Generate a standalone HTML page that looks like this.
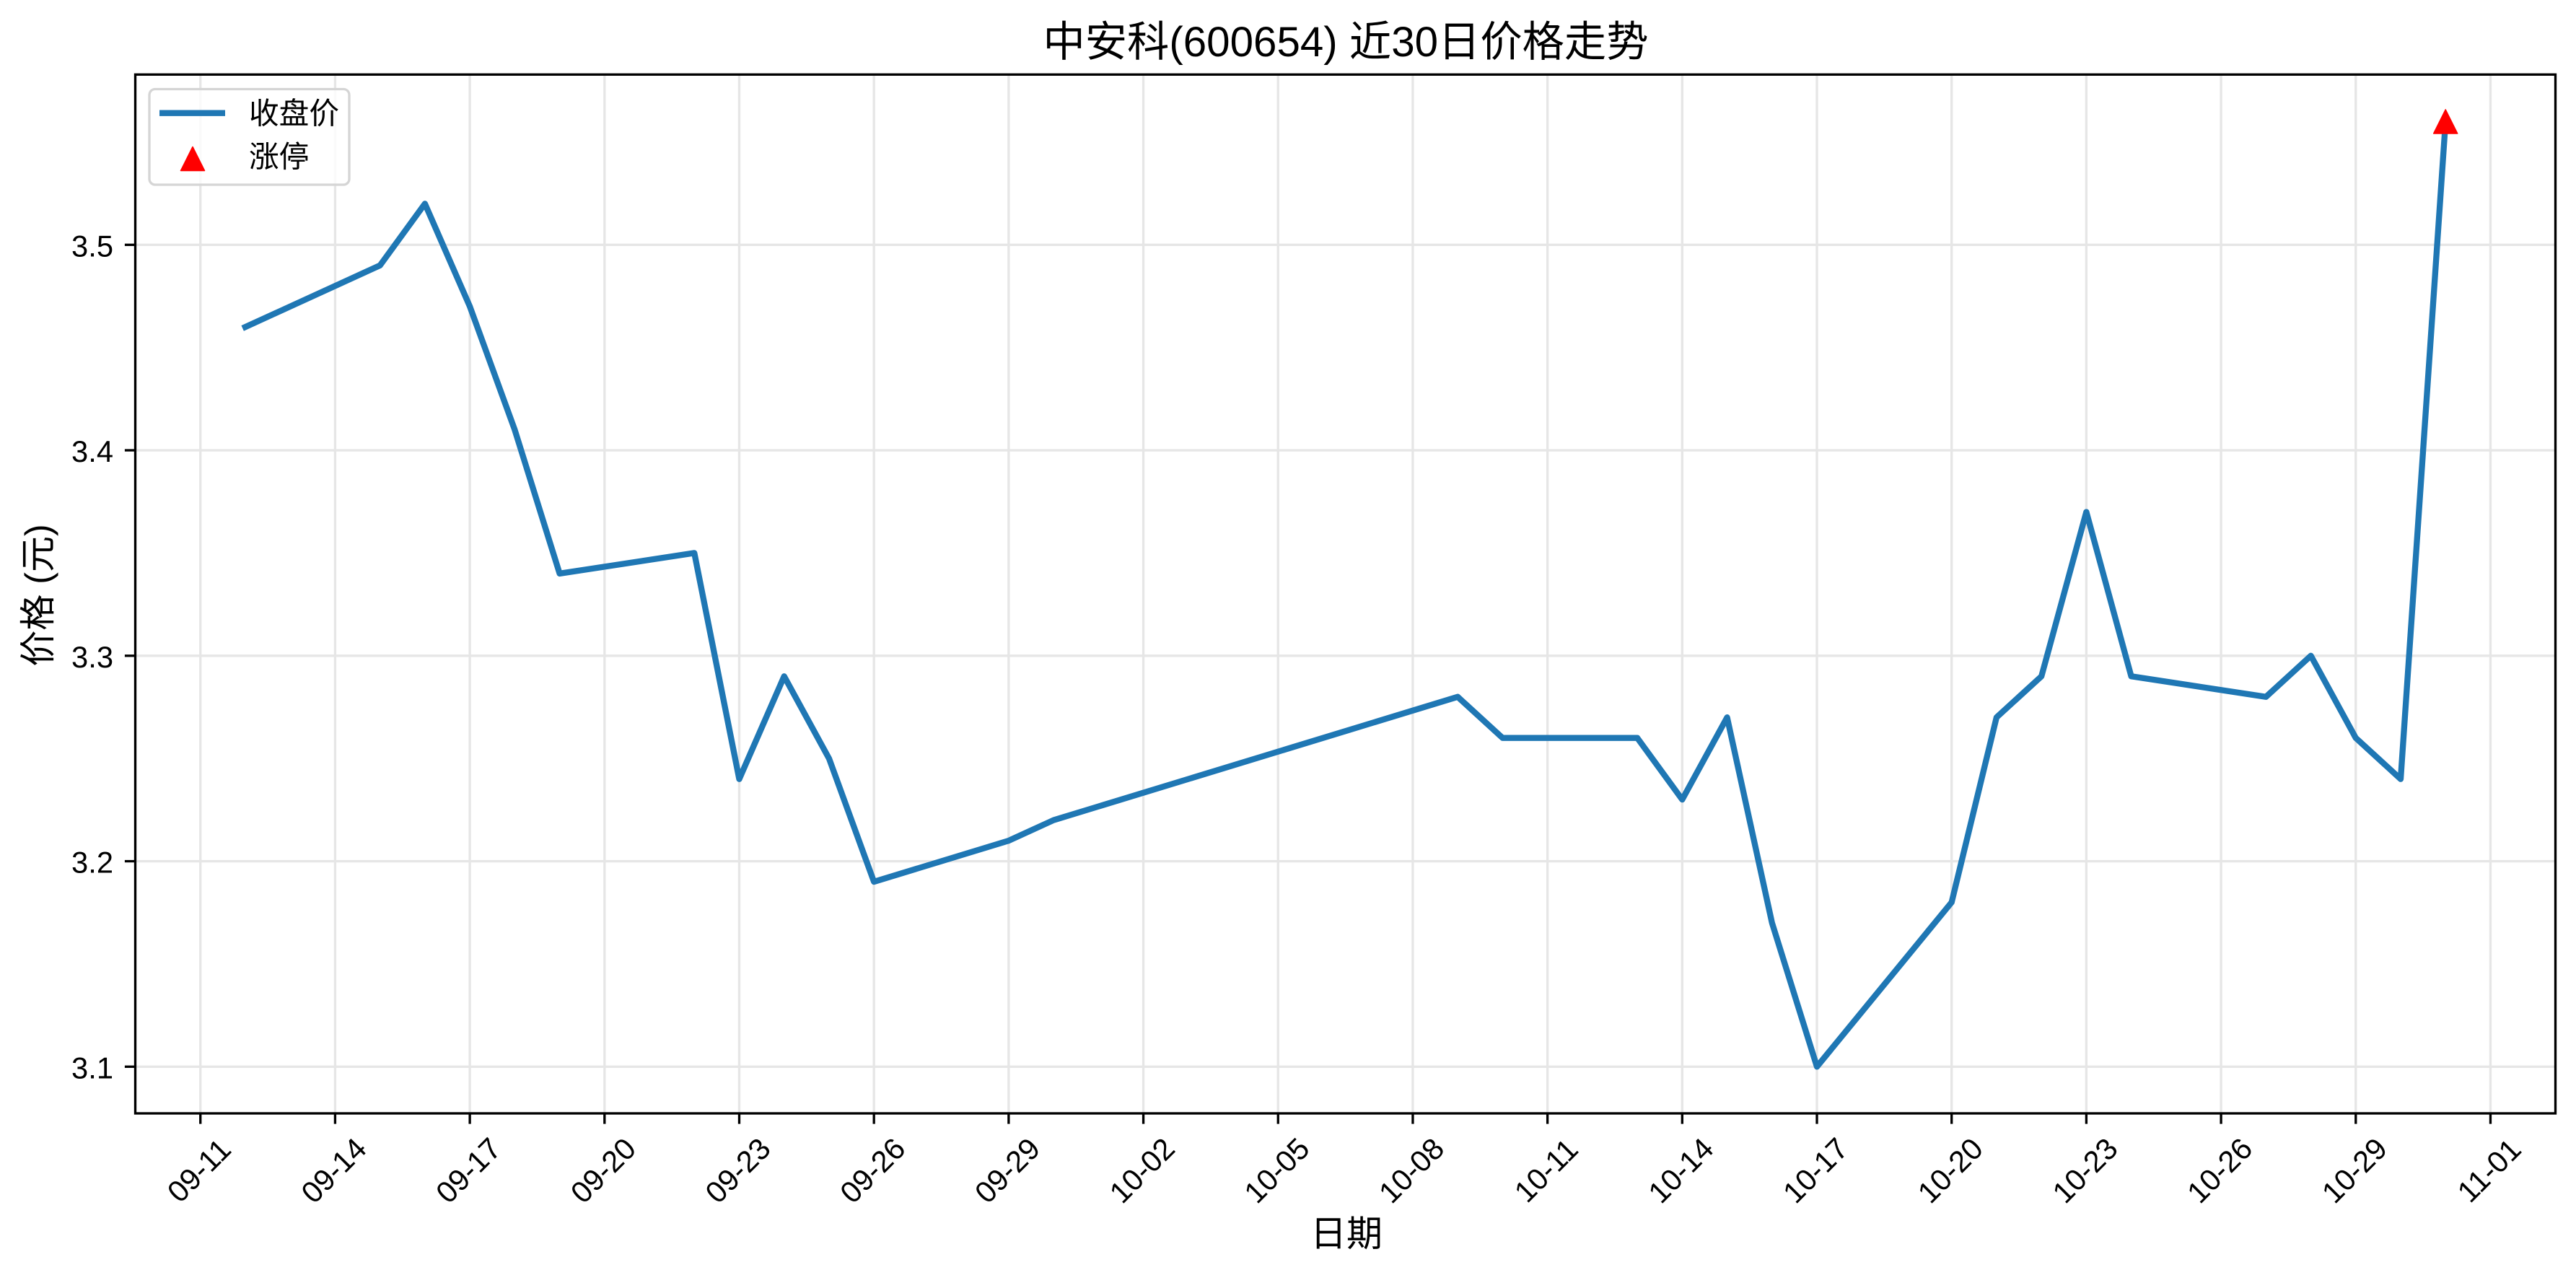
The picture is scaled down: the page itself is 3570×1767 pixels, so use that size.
<!DOCTYPE html>
<html>
<head>
<meta charset="utf-8">
<style>
  html, body { margin: 0; padding: 0; background: #ffffff; }
  svg { display: block; }
  text { font-family: "Liberation Sans", "Noto Sans CJK SC", sans-serif; fill: #000; }
</style>
</head>
<body>
<svg width="3570" height="1767" viewBox="0 0 3570 1767" xmlns="http://www.w3.org/2000/svg">
  <rect x="0" y="0" width="3570" height="1767" fill="#ffffff"/>

  <!-- grid -->
  <g stroke="#e6e6e6" stroke-width="3.33" fill="none">
    <line x1="277.73" y1="103.3" x2="277.73" y2="1543"/>
    <line x1="464.42" y1="103.3" x2="464.42" y2="1543"/>
    <line x1="651.11" y1="103.3" x2="651.11" y2="1543"/>
    <line x1="837.80" y1="103.3" x2="837.80" y2="1543"/>
    <line x1="1024.49" y1="103.3" x2="1024.49" y2="1543"/>
    <line x1="1211.18" y1="103.3" x2="1211.18" y2="1543"/>
    <line x1="1397.87" y1="103.3" x2="1397.87" y2="1543"/>
    <line x1="1584.56" y1="103.3" x2="1584.56" y2="1543"/>
    <line x1="1771.25" y1="103.3" x2="1771.25" y2="1543"/>
    <line x1="1957.94" y1="103.3" x2="1957.94" y2="1543"/>
    <line x1="2144.63" y1="103.3" x2="2144.63" y2="1543"/>
    <line x1="2331.32" y1="103.3" x2="2331.32" y2="1543"/>
    <line x1="2518.01" y1="103.3" x2="2518.01" y2="1543"/>
    <line x1="2704.70" y1="103.3" x2="2704.70" y2="1543"/>
    <line x1="2891.39" y1="103.3" x2="2891.39" y2="1543"/>
    <line x1="3078.08" y1="103.3" x2="3078.08" y2="1543"/>
    <line x1="3264.77" y1="103.3" x2="3264.77" y2="1543"/>
    <line x1="3451.46" y1="103.3" x2="3451.46" y2="1543"/>
    <line x1="187.5" y1="1478.3" x2="3541.5" y2="1478.3"/>
    <line x1="187.5" y1="1193.55" x2="3541.5" y2="1193.55"/>
    <line x1="187.5" y1="908.8" x2="3541.5" y2="908.8"/>
    <line x1="187.5" y1="624.05" x2="3541.5" y2="624.05"/>
    <line x1="187.5" y1="339.3" x2="3541.5" y2="339.3"/>
  </g>

  <!-- price line -->
  <polyline fill="none" stroke="#1f77b4" stroke-width="8.33" stroke-linejoin="round" stroke-linecap="square"
    points="339.96,453.2 526.65,367.8 588.88,282.35 651.11,424.7 713.34,595.6 775.57,794.9 962.26,766.4 1024.49,1079.65 1086.72,937.3 1148.95,1051.2 1211.18,1222.0 1397.87,1165.1 1460.10,1136.6 2020.17,965.75 2082.40,1022.7 2269.09,1022.7 2331.32,1108.1 2393.55,994.2 2455.78,1279.0 2518.01,1478.3 2704.70,1250.5 2766.93,994.2 2829.16,937.3 2891.39,709.5 2953.62,937.3 3140.31,965.75 3202.54,908.8 3264.77,1022.7 3327.00,1079.65 3389.23,168.45"/>

  <!-- limit-up marker -->
  <polygon points="3389.2,151.95 3372.7,184.95 3405.7,184.95" fill="#ff0000" stroke="#ff0000" stroke-width="1.5" stroke-linejoin="round"/>

  <!-- spines -->
  <rect x="187.5" y="103.3" width="3354" height="1439.7" fill="none" stroke="#000" stroke-width="3.33"/>

  <!-- ticks -->
  <g stroke="#000" stroke-width="3.33">
    <line x1="172.9" y1="1478.3" x2="187.5" y2="1478.3"/>
    <line x1="172.9" y1="1193.55" x2="187.5" y2="1193.55"/>
    <line x1="172.9" y1="908.8" x2="187.5" y2="908.8"/>
    <line x1="172.9" y1="624.05" x2="187.5" y2="624.05"/>
    <line x1="172.9" y1="339.3" x2="187.5" y2="339.3"/>
    <line x1="277.73" y1="1543" x2="277.73" y2="1557.6"/>
    <line x1="464.42" y1="1543" x2="464.42" y2="1557.6"/>
    <line x1="651.11" y1="1543" x2="651.11" y2="1557.6"/>
    <line x1="837.80" y1="1543" x2="837.80" y2="1557.6"/>
    <line x1="1024.49" y1="1543" x2="1024.49" y2="1557.6"/>
    <line x1="1211.18" y1="1543" x2="1211.18" y2="1557.6"/>
    <line x1="1397.87" y1="1543" x2="1397.87" y2="1557.6"/>
    <line x1="1584.56" y1="1543" x2="1584.56" y2="1557.6"/>
    <line x1="1771.25" y1="1543" x2="1771.25" y2="1557.6"/>
    <line x1="1957.94" y1="1543" x2="1957.94" y2="1557.6"/>
    <line x1="2144.63" y1="1543" x2="2144.63" y2="1557.6"/>
    <line x1="2331.32" y1="1543" x2="2331.32" y2="1557.6"/>
    <line x1="2518.01" y1="1543" x2="2518.01" y2="1557.6"/>
    <line x1="2704.70" y1="1543" x2="2704.70" y2="1557.6"/>
    <line x1="2891.39" y1="1543" x2="2891.39" y2="1557.6"/>
    <line x1="3078.08" y1="1543" x2="3078.08" y2="1557.6"/>
    <line x1="3264.77" y1="1543" x2="3264.77" y2="1557.6"/>
    <line x1="3451.46" y1="1543" x2="3451.46" y2="1557.6"/>
  </g>

  <!-- y tick labels -->
  <g font-size="41.7" text-anchor="end">
    <text x="157" y="1494.3">3.1</text>
    <text x="157" y="1209.55">3.2</text>
    <text x="157" y="924.8">3.3</text>
    <text x="157" y="640.05">3.4</text>
    <text x="157" y="355.3">3.5</text>
  </g>

  <!-- x tick labels (rotated 45°) -->
  <g font-size="41.7" text-anchor="middle" dominant-baseline="central">
    <text transform="translate(275.7,1622) rotate(-45)">09-11</text>
    <text transform="translate(462.4,1622) rotate(-45)">09-14</text>
    <text transform="translate(649.1,1622) rotate(-45)">09-17</text>
    <text transform="translate(835.8,1622) rotate(-45)">09-20</text>
    <text transform="translate(1022.5,1622) rotate(-45)">09-23</text>
    <text transform="translate(1209.2,1622) rotate(-45)">09-26</text>
    <text transform="translate(1395.9,1622) rotate(-45)">09-29</text>
    <text transform="translate(1582.6,1622) rotate(-45)">10-02</text>
    <text transform="translate(1769.3,1622) rotate(-45)">10-05</text>
    <text transform="translate(1955.9,1622) rotate(-45)">10-08</text>
    <text transform="translate(2142.6,1622) rotate(-45)">10-11</text>
    <text transform="translate(2329.3,1622) rotate(-45)">10-14</text>
    <text transform="translate(2516.0,1622) rotate(-45)">10-17</text>
    <text transform="translate(2702.7,1622) rotate(-45)">10-20</text>
    <text transform="translate(2889.4,1622) rotate(-45)">10-23</text>
    <text transform="translate(3076.1,1622) rotate(-45)">10-26</text>
    <text transform="translate(3262.8,1622) rotate(-45)">10-29</text>
    <text transform="translate(3449.5,1622) rotate(-45)">11-01</text>
  </g>

  <!-- axis labels -->
  <text x="1866" y="1727" font-size="50" text-anchor="middle">日期</text>
  <text transform="translate(53,825) rotate(-90)" font-size="50" text-anchor="middle" dominant-baseline="central">价格 (元)</text>

  <!-- title -->
  <text x="1865" y="78" font-size="58.3" text-anchor="middle">中安科(600654) 近30日价格走势</text>

  <!-- legend -->
  <rect x="207" y="123.5" width="277" height="132.5" rx="8" ry="8" fill="#ffffff" fill-opacity="0.8" stroke="#d5d5d5" stroke-width="3.33"/>
  <line x1="221" y1="156.7" x2="312" y2="156.7" stroke="#1f77b4" stroke-width="8.33" stroke-linecap="butt"/>
  <polygon points="267,203.5 250.5,236.5 283.5,236.5" fill="#ff0000" stroke="#ff0000" stroke-width="1.5" stroke-linejoin="round"/>
  <text x="345" y="171.5" font-size="41.7">收盘价</text>
  <text x="345" y="231.5" font-size="41.7">涨停</text>
</svg>
</body>
</html>
